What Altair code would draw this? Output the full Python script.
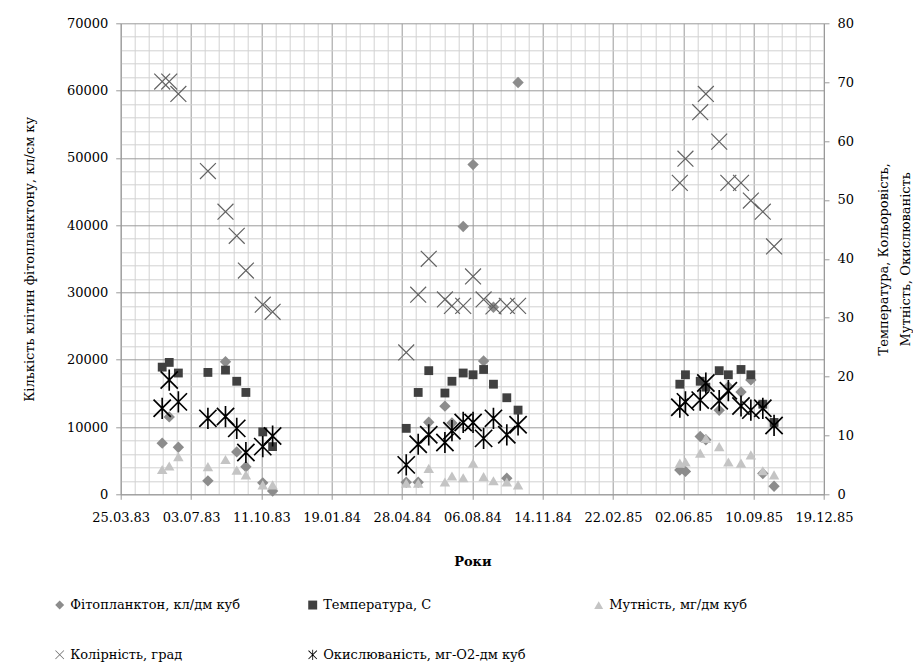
import altair as alt
import pandas as pd

SERIES = [
    "Фітопланктон, кл/дм куб",
    "Температура, С",
    "Мутність, мг/дм куб",
    "Колірність, град",
    "Окислюваність, мг-О2-дм куб",
]

dates = [
    "23.05.83", "02.06.83", "15.06.83", "27.07.83", "21.08.83", "06.09.83", "19.09.83", "13.10.83", "27.10.83",
    "04.05.84", "21.05.84", "05.06.84", "28.06.84", "08.07.84", "24.07.84", "07.08.84", "22.08.84", "05.09.84", "24.09.84", "10.10.84",
    "28.05.85", "05.06.85", "26.06.85", "04.07.85", "23.07.85", "05.08.85", "23.08.85", "06.09.85", "23.09.85", "09.10.85",
]

phyto = [
    7600, 11500, 7000, 2000, 19700, 6300, 4100, 1700, 500,
    1800, 1800, 10700, 13100, 10600, 39800, 49000, 19800, 27800, 2400, 61200,
    3600, 3400, 8600, 8100, 12500, 16000, 15200, 17000, 3100, 1200,
]
temperature = [
    21.6, 22.4, 20.6, 20.7, 21.1, 19.2, 17.3, 10.6, 8.1,
    11.2, 17.3, 21.0, 17.2, 19.2, 20.6, 20.3, 21.2, 18.7, 16.4, 14.3,
    18.7, 20.3, 19.2, 18.2, 21.0, 20.3, 21.2, 20.3, 15.3, 12.2,
]
turbidity = [
    4.2, 4.8, 6.4, 4.7, 5.9, 4.1, 3.3, 1.6, 1.6,
    1.9, 1.9, 4.4, 2.1, 3.1, 2.8, 5.3, 3.0, 2.3, 2.1, 1.6,
    5.3, 5.5, 7.0, 9.5, 8.1, 5.5, 5.3, 6.7, 4.0, 3.3,
]
colour = [
    70.1, 70.1, 68.0, 54.9, 48.0, 43.9, 38.0, 32.2, 31.0,
    24.1, 33.9, 40.0, 33.1, 32.0, 32.0, 37.0, 33.1, 31.9, 32.0, 32.0,
    52.9, 57.0, 64.9, 68.0, 59.9, 52.9, 52.9, 49.9, 48.0, 42.1,
]
oxidation = [
    14.6, 19.4, 15.7, 12.9, 13.2, 11.2, 7.1, 8.1, 9.9,
    5.0, 8.5, 10.1, 8.8, 10.8, 12.2, 12.2, 9.5, 12.9, 10.1, 11.8,
    14.8, 15.7, 16.0, 18.9, 15.9, 17.6, 15.0, 14.3, 14.6, 11.7,
]

START = pd.Timestamp("1983-03-25")
days = [(pd.to_datetime(d, format="%d.%m.%y") - START).days for d in dates]

rows = []
for name, vals in zip(SERIES, [phyto, temperature, turbidity, colour, oxidation]):
    for d, v in zip(days, vals):
        rows.append({"day": d, "series": name, "value": v})
df = pd.DataFrame(rows)

X_PATH = "M-1,-0.9L-0.9,-1L1,0.9L0.9,1Z M-1,0.9L0.9,-1L1,-0.9L-0.9,1Z"
AST_PATH = ("M-1,-0.87L-0.87,-1L1,0.87L0.87,1Z M-1,0.87L0.87,-1L1,-0.87L-0.87,1Z "
            "M-0.09,-1.15L0.09,-1.15L0.09,1.15L-0.09,1.15Z")
SIZES = [130, 78, 110, 280, 340]

FONT = "DejaVu Serif"
FS = 13
MAJOR = "#9a9a9a"
MINOR = "#d2d2d2"

legend = alt.Legend(
    title=None, orient="none", legendX=-67.5, legendY=575, direction="horizontal",
    columns=3, columnPadding=66, rowPadding=36, labelFont=FONT, labelFontSize=FS,
    labelColor="black", symbolSize=80, labelOffset=4, padding=0, labelLimit=400,
)
color = alt.Color("series:N", scale=alt.Scale(domain=SERIES,
                  range=["#8c8c8c", "#404040", "#c4c4c4", "#626262", "#000000"]), legend=legend)
shape = alt.Shape("series:N", scale=alt.Scale(domain=SERIES,
                  range=["diamond", "square", "triangle-up", X_PATH, AST_PATH]), legend=legend)

x_axis = alt.Axis(
    values=list(range(0, 1001, 20)),
    labelExpr="datum.value % 100 === 0 ? timeFormat(datetime(1983, 2, 25 + datum.value), '%d.%m.%y') : ''",
    labelFlush=False, labelOverlap=False, labelFont=FONT, labelFontSize=FS, labelColor="black",
    labelPadding=12, tickSize=5,
    tickOpacity={"condition": {"test": "datum.value % 100 === 0", "value": 1}, "value": 0},
    gridColor={"condition": {"test": "datum.value % 100 === 0", "value": MAJOR}, "value": MINOR},
    grid=True, domainColor=MAJOR, tickColor=MAJOR,
    title="Роки", titleFont=FONT, titleFontSize=FS, titleFontWeight="bold", titleColor="black",
    titleX=351.65, titleY=71, titleBaseline="alphabetic", titleAlign="center",
)
x = alt.X("day:Q", scale=alt.Scale(domain=[0, 1000], nice=False, zero=False), axis=x_axis)

left_axis = alt.Axis(
    values=list(range(0, 70001, 2000)),
    labelExpr="datum.value % 10000 === 0 ? datum.value : ''",
    labelOverlap=False, labelFont=FONT, labelFontSize=FS, labelColor="black", labelPadding=8, tickSize=5,
    tickOpacity={"condition": {"test": "datum.value % 10000 === 0", "value": 1}, "value": 0},
    gridColor={"condition": {"test": "datum.value % 10000 === 0", "value": MAJOR}, "value": MINOR},
    grid=True, domainColor=MAJOR, tickColor=MAJOR,
    title="Кількість клітин фітопланктону, кл/см ку", titleFont=FONT, titleFontSize=FS,
    titleFontWeight="normal", titleColor="black", titleAngle=270,
    titleX=-87, titleY=235.5, titleAlign="center", titleBaseline="alphabetic",
)
right_axis = alt.Axis(
    orient="right", values=list(range(0, 81, 10)), labelFont=FONT, labelFontSize=FS, labelColor="black",
    labelPadding=8, tickSize=5, grid=False, domainColor=MAJOR, tickColor=MAJOR,
    title=["Температура, Кольоровість,", "Мутність, Окислюваність"], titleFont=FONT, titleFontSize=FS,
    titleFontWeight="normal", titleColor="black", titleAngle=270, titleLineHeight=22,
    titleX=64, titleY=235.5, titleAlign="center", titleBaseline="alphabetic",
)


def series_layer(i, y):
    return (
        alt.Chart(df)
        .transform_filter(alt.datum.series == SERIES[i])
        .mark_point(filled=True, opacity=1, size=SIZES[i])
        .encode(x=x, y=y, color=color, shape=shape)
    )


y_left = alt.Y("value:Q", scale=alt.Scale(domain=[0, 70000], nice=False), axis=left_axis)
y_right = alt.Y("value:Q", scale=alt.Scale(domain=[0, 80], nice=False), axis=right_axis)

phyto_layer = series_layer(0, y_left)
other_layer = alt.layer(*[series_layer(i, y_right) for i in range(1, 5)])

chart = (
    alt.layer(phyto_layer, other_layer)
    .resolve_scale(y="independent")
    .properties(
        width=703.3, height=471,
        autosize=alt.AutoSizeParams(type="none"),
        padding={"left": 112.7, "top": 15.3, "right": 89, "bottom": 170},
        background="white",
    )
    .configure_view(strokeWidth=0)
)

chart.save("out.html", embed_options={"renderer": "svg", "actions": False})
